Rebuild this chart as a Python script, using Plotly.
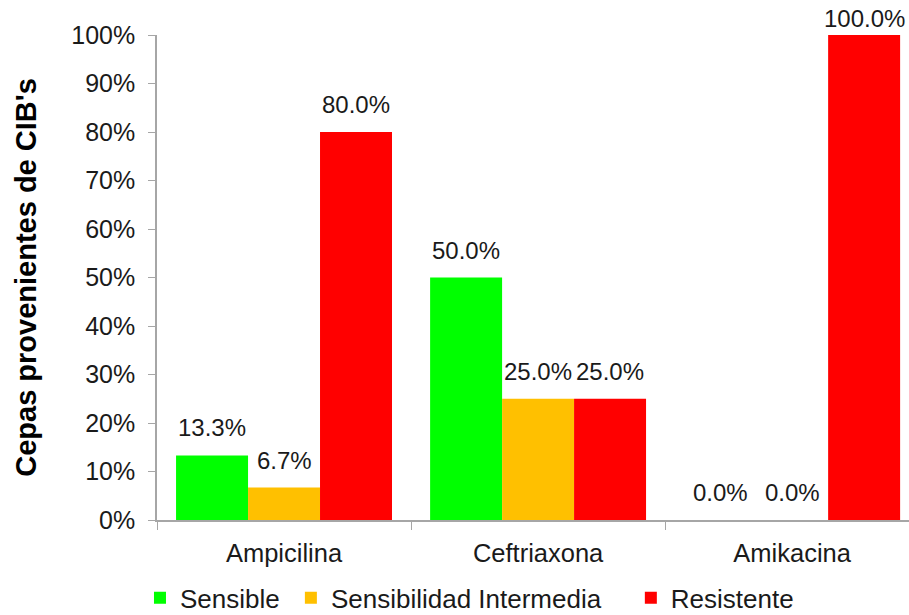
import plotly.graph_objects as go

# Antibiotic susceptibility of the strains
antibiotics = ["Ampicilina", "Ceftriaxona", "Amikacina"]
series_names = ["Sensible", "Sensibilidad Intermedia", "Resistente"]
sensible = [13.3, 50.0, 0.0]
intermedia = [6.7, 25.0, 0.0]
resistente = [80.0, 25.0, 100.0]
y_ticks = [0, 10, 20, 30, 40, 50, 60, 70, 80, 90, 100]

colors = ["#00FF00", "#FFC000", "#FF0000"]
series_values = [sensible, intermedia, resistente]
legend_ids = ["legend", "legend2", "legend3"]
legend_x = [0.154, 0.320, 0.694]

FONT = "Liberation Sans, Arial, sans-serif"

fig = go.Figure()
for name, vals, col, lg in zip(series_names, series_values, colors, legend_ids):
    fig.add_trace(go.Bar(
        name=name, x=antibiotics, y=vals,
        marker=dict(color=col, line=dict(width=0)),
        offsetgroup=name, legend=lg,
    ))

# value labels above each bar
n = len(series_names)
bar_w = (1 - 0.15) / n
for i, vals in enumerate(series_values):
    for j, v in enumerate(vals):
        xpos = j - (1 - 0.15) / 2 + bar_w * (i + 0.5)
        fig.add_annotation(
            x=xpos, y=v, xref="x", yref="y",
            text=f"{v:.1f}%", showarrow=False,
            yanchor="bottom", yshift=1 if v >= 100 else 12,
            font=dict(family=FONT, size=24, color="#1a1a1a"),
        )

legend_style = dict(
    orientation="h", xref="container", xanchor="left",
    yref="container", y=0.066, yanchor="top",
    font=dict(family=FONT, size=26, color="#1a1a1a"),
    itemwidth=30, bgcolor="rgba(0,0,0,0)",
)

fig.update_layout(
    width=909, height=615,
    margin=dict(l=157, r=0, t=35, b=95, autoexpand=False),
    paper_bgcolor="white", plot_bgcolor="white",
    barmode="group", bargap=0.15, bargroupgap=0,
    font=dict(family=FONT, size=24, color="#1a1a1a"),
    showlegend=True,
    legend=dict(x=legend_x[0], **legend_style),
    legend2=dict(x=legend_x[1], **legend_style),
    legend3=dict(x=legend_x[2], **legend_style),
)

fig.update_xaxes(
    type="category", range=[-0.5, 2.46],
    showline=True, linecolor="#A6A6A6", linewidth=1.5,
    ticks="outside", tickson="boundaries", ticklen=8, tickcolor="#A6A6A6",
    ticklabelstandoff=10,
    tickfont=dict(family=FONT, size=25.5, color="#1a1a1a"),
    showgrid=False, zeroline=False,
)
fig.update_yaxes(
    range=[0, 100], tickvals=y_ticks,
    ticktext=[f"{t}%" for t in y_ticks],
    showline=True, linecolor="#A6A6A6", linewidth=1.5,
    ticks="outside", ticklen=7, tickcolor="#A6A6A6",
    ticklabelstandoff=8,
    tickfont=dict(family=FONT, size=25, color="#1a1a1a"),
    showgrid=False, zeroline=False,
    title=dict(text="<b>Cepas provenientes de CIB's</b>",
               font=dict(family=FONT, size=29, color="#000000"),
               standoff=26),
)

fig.write_html("out.html")
